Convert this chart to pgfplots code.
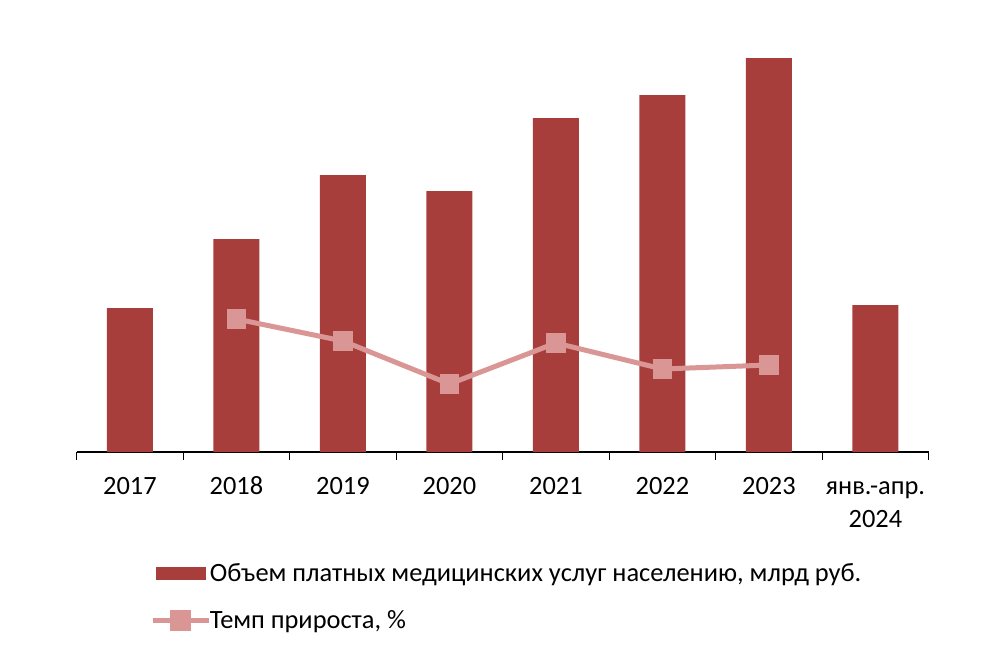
\documentclass[border=0pt]{standalone}
\usepackage{pgfplots}
\pgfplotsset{compat=1.18}
\usepackage{fontspec}
\setmainfont{Carlito}
\definecolor{barcol}{RGB}{168,62,60}
\definecolor{linecol}{RGB}{217,150,148}
\begin{document}
\begin{tikzpicture}[x=0.5pt,y=0.5pt]
\path[use as bounding box] (0,0) rectangle (1000,661);
\begin{axis}[
  at={(72,209)}, anchor=south west,
  scale only axis, width=426pt, height=206pt,
  xmin=-0.5, xmax=7.5, ymin=0, ymax=412,
  axis x line*=bottom, axis y line=none,
  xtick={0,...,7},
  xticklabels={2017,2018,2019,2020,2021,2022,2023,{янв.-апр.\\2024}},
  typeset ticklabels with strut,
  major tick length=0pt,
  minor xtick={-0.5,0.5,...,7.5},
  minor tick length=4pt,
  tick style={black, line width=0.6pt},
  xtick align=outside,
  axis line style={black, line width=0.6pt},
  xticklabel style={align=center, font=\fontsize{13.2}{16.5}\selectfont, yshift=-6pt, anchor=north},
  clip=false,
  legend style={at={(0.0868,-0.26)}, anchor=north west, draw=none, fill=none,
    font=\fontsize{13.2}{16}\selectfont, row sep=9pt, column sep=-1.5pt, inner sep=0pt, outer sep=0pt,
    nodes={inner xsep=0.6pt},
    legend cell align=left},
]
\addplot[ybar, bar width=23pt, fill=barcol, draw=none,
  legend image code/.code={\fill[barcol] (0pt,-3.3pt) rectangle (25pt,3.3pt);}]
  coordinates {(0,144) (1,213) (2,277) (3,261) (4,334) (5,357) (6,394) (7,147)};
\addlegendentry{Объем платных медицинских услуг населению, млрд руб.}
\addplot[linecol, line width=2.5pt, mark=square*, mark size=4.6pt,
  mark options={fill=linecol, draw=linecol, line width=0pt},
  legend image code/.code={\draw[linecol, line width=2.5pt] (-1.5pt,0pt) -- (26.5pt,0pt);
    \fill[linecol] (8pt,-4pt) rectangle (16pt,4pt);}]
  coordinates {(1,133) (2,111) (3,68) (4,109) (5,83) (6,87)};
\addlegendentry{Темп прироста, \%}
\end{axis}
\end{tikzpicture}
\end{document}
